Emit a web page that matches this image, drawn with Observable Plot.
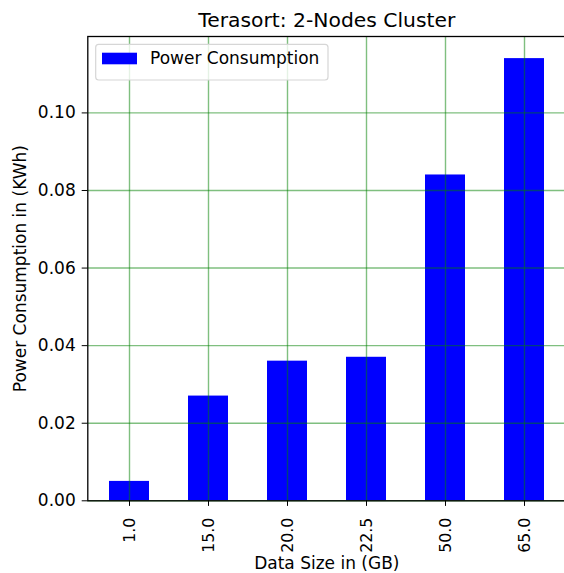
<!DOCTYPE html>
<html>
<head>
<meta charset="utf-8">
<script src="https://cdn.jsdelivr.net/npm/d3@7"></script>
<script src="https://cdn.jsdelivr.net/npm/@observablehq/plot@0.6"></script>
<style>
  html, body { margin: 0; padding: 0; background: #fff; overflow: hidden; }
  #chart { width: 564px; height: 573px; overflow: hidden; }
  #chart svg { display: block; max-width: none !important; }
</style>
</head>
<body>
<div id="chart"></div>
<script>
const categories = ["1.0", "15.0", "20.0", "22.5", "50.0", "65.0"];
const powerValues = [0.005, 0.027, 0.036, 0.037, 0.084, 0.114];
const yTicks = [0.00, 0.02, 0.04, 0.06, 0.08, 0.10];
const titleText = "Terasort: 2-Nodes Cluster";
const xLabel = "Data Size in (GB)";
const yLabel = "Power Consumption in (KWh)";
const seriesName = "Power Consumption";

const data = categories.map((c, i) => ({size: c, power: powerValues[i]}));
const font = "'DejaVu Sans', sans-serif";
const fs = 17;
const gridStyle = {stroke: "#008000", strokeOpacity: 0.5, strokeWidth: 1.4};

const chart = Plot.plot({
  width: 568,
  height: 573,
  marginLeft: 87.3,
  marginRight: 2.7,
  marginTop: 36,
  marginBottom: 72.7,
  style: {fontFamily: font, fontSize: fs + "px", color: "#000", background: "#fff", maxWidth: "none"},
  x: {domain: categories, range: [87.3, 565.3], paddingInner: 0.5, paddingOuter: 0.25, align: 0.5, label: null},
  y: {domain: [0, 0.1197], label: null},
  marks: [
    Plot.barY(data, {x: "size", y: "power", fill: "#0000ff"}),
    Plot.gridX(categories, {...gridStyle}),
    Plot.gridY(yTicks, {...gridStyle}),
    Plot.frame({stroke: "#000", strokeWidth: 1.3}),
    Plot.axisY(yTicks, {tickFormat: d => d.toFixed(2), tickSize: 5.6, tickPadding: 6.5, label: null, fontSize: fs}),
    Plot.axisX({tickRotate: -90, tickSize: 5.6, tickPadding: 11.2, label: null, fontSize: 15.8}),
    Plot.text([titleText], {frameAnchor: "top", dy: -9.3, lineAnchor: "bottom", fontSize: 20.3}),
    Plot.text([xLabel], {frameAnchor: "bottom", dy: 67.7, lineAnchor: "bottom", fontSize: fs}),
    Plot.text([yLabel], {frameAnchor: "left", dx: -67.5, rotate: -90, lineAnchor: "middle", textAnchor: "middle", fontSize: fs})
  ]
});

// Legend (matplotlib-style box in upper left)
const svg = d3.select(chart);
const lg = svg.append("g").attr("font-family", font).attr("font-size", fs).attr("text-anchor", "start");
lg.append("rect").attr("x", 95.7).attr("y", 44.3).attr("width", 232.3).attr("height", 35.7)
  .attr("rx", 3).attr("fill", "#fff").attr("fill-opacity", 0.8)
  .attr("stroke", "#d6d6d6").attr("stroke-width", 1.2);
lg.append("rect").attr("x", 102).attr("y", 52.7).attr("width", 35).attr("height", 11.6).attr("fill", "#0000ff");
lg.append("text").attr("x", 150).attr("y", 64.3).attr("fill", "#000").attr("text-anchor", "start").text(seriesName);

document.getElementById("chart").appendChild(chart);
</script>
</body>
</html>
